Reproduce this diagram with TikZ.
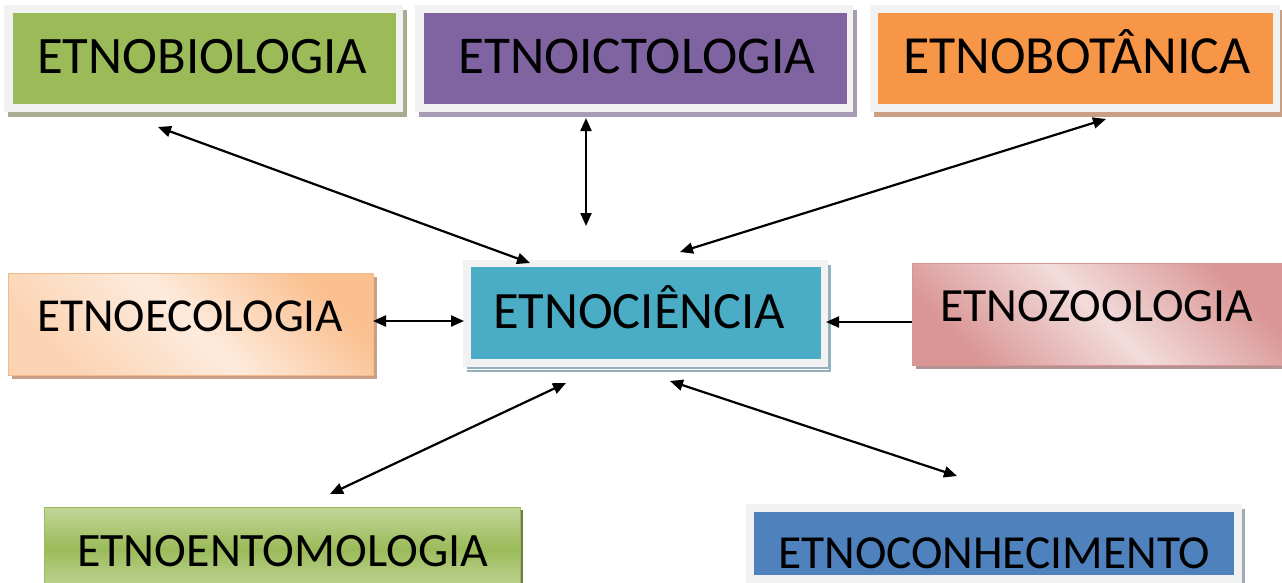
\documentclass[tikz,border=0pt]{standalone}
\usepackage{fontspec}
\setmainfont{Carlito}
\usetikzlibrary{arrows.meta}
\definecolor{bioC}{HTML}{9BBB59}
\definecolor{bioS}{HTML}{A6AD92}
\definecolor{ictC}{HTML}{8064A2}
\definecolor{ictS}{HTML}{A79BB5}
\definecolor{botC}{HTML}{F79646}
\definecolor{botS}{HTML}{C9A084}
\definecolor{frameC}{HTML}{F2F2F2}
\definecolor{cienC}{HTML}{4BACC6}
\definecolor{cienS}{HTML}{94B2BE}
\definecolor{conC}{HTML}{4F81BD}
\definecolor{conS}{HTML}{A2AABA}
\definecolor{ecoD}{HTML}{FAC090}
\definecolor{ecoL}{HTML}{FDEBDD}
\definecolor{ecoB}{HTML}{F5B98A}
\definecolor{zooD}{HTML}{D99694}
\definecolor{zooL}{HTML}{F2DCDB}
\definecolor{zooS}{HTML}{B39291}
\definecolor{entL}{HTML}{C3D69B}
\definecolor{entS}{HTML}{6E7F44}
\newcommand\fitw[2]{\resizebox{#1pt}{!}{#2}}
\begin{document}
\begin{tikzpicture}[x=1pt,y=-1pt,
  label/.style={anchor=base west, inner sep=0pt, text=black},
  link/.style={line width=2.2pt, {Triangle[length=13pt,width=11pt]}-{Triangle[length=13pt,width=11pt]}},
  onelink/.style={line width=2.2pt, -{Triangle[length=13pt,width=11pt]}},
  box/.style={inner sep=0pt, outer sep=0pt}
]
\useasboundingbox (0,0) rectangle (1282,582);
\clip (0,0) rectangle (1282,582);
\fill[white] (0,0) rectangle (1282,582);

% ETNOBIOLOGIA
\fill[bioS] (8,10) rectangle (407,117);
\fill[frameC] (4,5) rectangle (403,112);
\path[fill=bioC] (13,13) rectangle (396,104) node[box, pos=0.5] (bio) {};
\node[label] (biot) at (37,73) {\fitw{330}{ETNOBIOLOGIA}};

% ETNOICTOLOGIA
\fill[ictS] (419,10) rectangle (857,117);
\fill[frameC] (415,5) rectangle (853,112);
\path[fill=ictC] (424,13) rectangle (847,104) node[box, pos=0.5] (ict) {};
\node[label] (ictt) at (458,73) {\fitw{357}{ETNOICTOLOGIA}};

% ETNOBOTANICA
\fill[botS] (874,10) rectangle (1284,117);
\fill[frameC] (870,5) rectangle (1280,112);
\path[fill=botC] (878,13) rectangle (1273,104) node[box, pos=0.5] (bot) {};
\node[label] (bott) at (903,73) {\fitw{347}{ETNOBOTÂNICA}};

% ETNOECOLOGIA
\fill[botS] (12,277) rectangle (377,379);
\shade[top color=ecoD, bottom color=ecoL!45!ecoD, middle color=ecoL, shading angle=-45] (8,273) rectangle (373,375);
\draw[ecoB, line width=1pt] (8,273) rectangle (373,375);
\node[box] (eco) at (190.5,324) {};
\node[label] (ecot) at (37,331) {\fitw{306}{ETNOECOLOGIA}};

% ETNOCIENCIA
\fill[cienS] (467,265) rectangle (831,372);
\fill[frameC] (463,260) rectangle (828,367);
\draw[white, line width=0.8pt] (466,369) -- (829,369);
\path[fill=cienC] (471,267) rectangle (821,359) node[box, pos=0.5] (cien) {};
\node[label] (cient) at (493,328) {\fitw{292}{ETNOCIÊNCIA}};

% ETNOZOOLOGIA
\fill[zooS] (916,267) rectangle (1286,369);
\shade[top color=zooD, bottom color=zooD, middle color=zooL, shading angle=-45] (912,263) rectangle (1284,365);
\draw[zooD, line width=1pt] (912,263) rectangle (1284,365);
\node[box] (zoo) at (1097,314) {};
\node[label] (zoot) at (940,321) {\fitw{313}{ETNOZOOLOGIA}};

% ETNOENTOMOLOGIA
\fill[entS] (48,510) rectangle (523,603);
\shade[top color=entL, bottom color=bioC] (44,507) rectangle (520,549);
\shade[top color=bioC, bottom color=entL] (44,548.5) rectangle (520,592);
\draw[bioC, line width=1pt] (44,600) -- (44,507) -- (520,507) -- (520,600);
\node[box] (ento) at (282,550) {};
\node[label] (entot) at (77,566) {\fitw{411}{ETNOENTOMOLOGIA}};

% ETNOCONHECIMENTO
\fill[conS] (750,509) rectangle (1245,605);
\fill[frameC] (746,504) rectangle (1242,600);
\path[fill=conC] (754,512) rectangle (1234,575) node[box, pos=0.5] (con) {};
\node[label] (cont) at (778,568) {\fitw{432}{ETNOCONHECIMENTO}};

% connector end points
\coordinate (bioA) at (158,127);
\coordinate (bioB) at (530,263);
\coordinate (ictA) at (586,118);
\coordinate (ictB) at (586,226);
\coordinate (botA) at (1106,119);
\coordinate (botB) at (680,252);
\coordinate (ecoA) at (373,321);
\coordinate (ecoB) at (464,321);
\coordinate (zooA) at (912,322);
\coordinate (zooB) at (826,322);
\coordinate (entA) at (566,383);
\coordinate (entB) at (330,494);
\coordinate (conA) at (670,381);
\coordinate (conB) at (957,476);

\draw[link] (bioA) -- (bioB);
\draw[link] (ictA) -- (ictB);
\draw[link] (botA) -- (botB);
\draw[link] (ecoA) -- (ecoB);
\draw[onelink] (zooA) -- (zooB);
\draw[link] (entA) -- (entB);
\draw[link] (conA) -- (conB);
\end{tikzpicture}
\end{document}
